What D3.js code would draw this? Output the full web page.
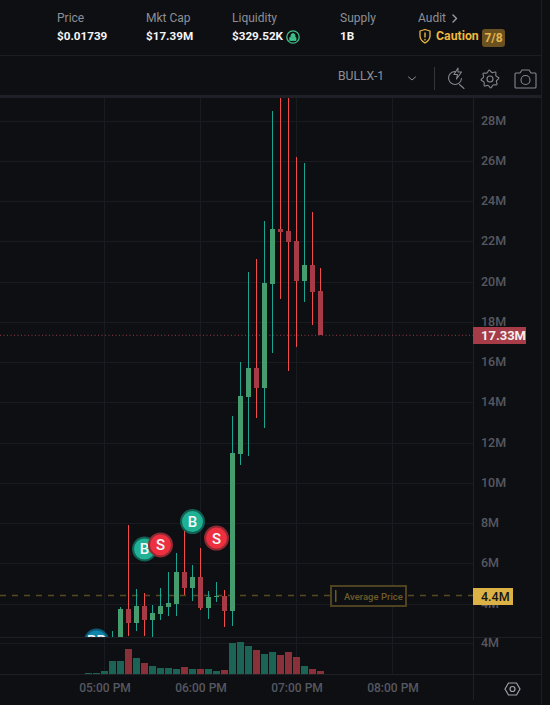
<!DOCTYPE html>
<html><head><meta charset="utf-8">
<style>html,body{margin:0;padding:0;background:#0e0f12;overflow:hidden}svg{display:block;font-family:Roboto,"Liberation Sans",sans-serif}</style>
<script src="https://cdn.jsdelivr.net/npm/d3@7"></script></head><body><div id="c"></div>
<script>
const times=["16:50","16:55","17:00","17:05","17:10","17:15","17:20","17:25","17:30","17:35","17:40","17:45","17:50","17:55","18:00","18:05","18:10","18:15","18:20","18:25","18:30","18:35","18:40","18:45","18:50","18:55","19:00","19:05","19:10","19:15"];
const opens =[1.0,1.2,1.5,2.0,2.3,3.71,3.01,3.86,3.16,3.46,3.81,3.96,5.55,4.75,5.30,3.76,4.30,4.35,3.61,11.43,14.24,15.68,14.69,19.85,22.59,22.49,21.99,20.0,20.80,19.51];
const highs =[1.1,1.3,1.8,2.62,3.81,7.88,4.70,4.50,3.91,4.75,5.55,6.49,7.63,5.89,6.74,4.60,5.05,4.65,13.30,15.98,20.45,21.09,22.98,28.45,31,31,26.16,25.86,23.43,20.65];
const lows  =[0.9,1.0,1.4,1.9,2.0,2.37,2.62,2.37,2.32,3.16,3.36,3.36,4.40,4.11,3.66,3.21,4.06,2.81,2.86,10.86,11.31,13.20,12.70,16.43,19.11,15.53,16.72,18.96,17.82,17.33];
const closes=[1.2,1.5,2.0,2.3,3.71,3.01,3.86,3.16,3.51,3.86,4.01,5.55,4.75,5.30,3.76,4.30,4.35,3.61,11.46,14.29,15.68,14.69,19.90,22.59,22.44,21.94,20.0,20.80,19.46,17.33];
const volumes=[0.13,0.13,0.39,1.68,1.68,3.2,2.07,1.42,1.03,0.77,0.77,0.65,0.9,0.65,0.65,0.65,0.39,0.52,4.0,4.13,3.61,3.1,2.58,2.84,2.45,2.84,2.19,1.03,0.65,0.39];
const markers=[["BB","16:55",2.12],["B","17:25",6.69],["S","17:35",6.89],["B","17:55",8.05],["S","18:10",7.23]];
const priceTicks=[28,26,24,22,20,18,16,14,12,10,8,6,4];
const volumeTicks=[4];
const timeTicks=["17:00","18:00","19:00","20:00"];
const headerLabels=["Price","Mkt Cap","Liquidity","Supply","Audit"];
const headerValues=["$0.01739","$17.39M","$329.52K","1B"];
const lastPrice=17.33, avgPrice=4.4;

const W=550,H=705,axisX=473,paneBottom=637,volBottom=674;
const T=s=>{const[a,b]=s.split(":");return new Date(2024,0,1,+a,+b)};
const x=d3.scaleTime().domain([T("17:00"),T("20:00")]).range([104.5,392.5]);
const y=d3.scaleLinear().domain([28,4]).range([120,603.12]);
const yv=d3.scaleLinear().domain([0,4]).range([674,643]);
const gy=v=>Math.round(y(v)+0.5)+0.5;
const GRID="#1a1b20",LINE="#1f2026",LBL="#565861";
const svg=d3.select("#c").append("svg").attr("width",W).attr("height",H);
svg.append("rect").attr("width",W).attr("height",H).attr("fill","#0e0f12");
const defs=svg.append("defs");
defs.append("clipPath").attr("id","pane").append("rect").attr("x",0).attr("y",98).attr("width",axisX).attr("height",paneBottom-98);

// frame
svg.append("rect").attr("x",0).attr("y",95).attr("width",541).attr("height",3).attr("fill","#1e1f27");
const hl=(yy,x1,x2,c)=>svg.append("line").attr("x1",x1).attr("x2",x2).attr("y1",yy).attr("y2",yy).attr("stroke",c).attr("shape-rendering","crispEdges");
const vl=(xx,y1,y2,c)=>svg.append("line").attr("x1",xx).attr("x2",xx).attr("y1",y1).attr("y2",y2).attr("stroke",c).attr("shape-rendering","crispEdges");
hl(55.5,0,541,"#1c1d22");
vl(541.5,0,705,"#1c1d22");

// grid
svg.append("g").selectAll("line").data(priceTicks).join("line")
 .attr("x1",0).attr("x2",axisX).attr("y1",gy).attr("y2",gy).attr("stroke",GRID).attr("shape-rendering","crispEdges");
svg.append("g").selectAll("line").data(timeTicks).join("line")
 .attr("x1",d=>x(T(d))).attr("x2",d=>x(T(d))).attr("y1",98).attr("y2",volBottom).attr("stroke",GRID).attr("shape-rendering","crispEdges");
hl(643.5,0,axisX,GRID);
hl(637.5,0,541,LINE);
hl(674.5,0,541,LINE);
vl(473.5,98,700,LINE);

// volume
const idx=d3.range(times.length);
svg.append("g").selectAll("rect").data(idx).join("rect")
 .attr("x",i=>x(T(times[i]))-3.5).attr("width",7)
 .attr("y",i=>Math.round(yv(volumes[i]))).attr("height",i=>volBottom-Math.round(yv(volumes[i])))
 .attr("fill",i=>closes[i]>=opens[i]?"#1a6355":"#8a3039");

// avg price line
const gp=svg.append("g");
gp.append("line").attr("x1",0).attr("x2",axisX).attr("y1",y(avgPrice)+.5).attr("y2",y(avgPrice)+.5).attr("stroke","#57491f").attr("stroke-width",1.5).attr("stroke-dasharray","6,6");
// last price
gp.append("line").attr("x1",0).attr("x2",axisX).attr("y1",y(lastPrice)+.5).attr("y2",y(lastPrice)+.5).attr("stroke","#8f3d48").attr("stroke-dasharray","1,2.5");

// candles
const cg=svg.append("g").attr("clip-path","url(#pane)");
const up=i=>closes[i]>=opens[i];
cg.selectAll("rect.w").data(idx).join("rect").attr("class","w")
 .attr("x",i=>x(T(times[i]))-.5).attr("width",1)
 .attr("y",i=>Math.round(y(highs[i]))).attr("height",i=>Math.round(y(lows[i]))-Math.round(y(highs[i])))
 .attr("fill",i=>up(i)?"#1ba392":"#f34a4a");
cg.selectAll("rect.b").data(idx).join("rect").attr("class","b")
 .attr("x",i=>x(T(times[i]))-2.5).attr("width",5)
 .attr("y",i=>Math.round(y(Math.max(opens[i],closes[i]))))
 .attr("height",i=>Math.max(1,Math.round(y(Math.min(opens[i],closes[i])))-Math.round(y(Math.max(opens[i],closes[i])))))
 .attr("fill",i=>up(i)?"#459c6e":"#a63b47");

// markers
const mk=cg.selectAll("g.m").data(markers).join("g").attr("class","m").attr("transform",d=>`translate(${x(T(d[1]))},${y(d[2])})`);
const mFill={B:"#20b093",S:"#ee2f40",BB:"#0f84ad"},mRing={B:"#125f54",S:"#8f2a33",BB:"#0b5a78"};
mk.append("circle").attr("r",11.5).attr("fill",d=>mFill[d[0]]).attr("stroke",d=>mRing[d[0]]).attr("stroke-width",2);
mk.append("text").attr("text-anchor","middle").attr("dy",5.5).attr("font-size",15).attr("font-weight",500).attr("fill","#f4fbfa").text(d=>d[0]);

// axes
const ax=svg.append("g").attr("transform",`translate(481,0)`).call(d3.axisRight(y).tickValues(priceTicks).tickFormat(d=>d+"M").tickSize(0).tickPadding(0));
ax.select(".domain").remove();
ax.selectAll("text").attr("fill",LBL).attr("font-size",12.5).attr("font-family","Roboto").attr("font-weight",500);
const av=svg.append("g").attr("transform",`translate(481,-1)`).call(d3.axisRight(yv).tickValues(volumeTicks).tickFormat(d=>d+"M").tickSize(0).tickPadding(0));
av.select(".domain").remove();
av.selectAll("text").attr("fill",LBL).attr("font-size",12.5).attr("font-family","Roboto").attr("font-weight",500);
const at=svg.append("g").attr("transform",`translate(0,683)`).call(d3.axisBottom(x).tickValues(timeTicks.map(T)).tickFormat(d3.timeFormat("%I:%M %p")).tickSize(0).tickPadding(0));
at.select(".domain").remove();
at.selectAll("text").attr("fill",LBL).attr("font-size",12).attr("font-family","Roboto").attr("font-weight",500);

// price tags
svg.append("rect").attr("x",473).attr("y",327).attr("width",53).attr("height",17).attr("fill","#a53c48");
svg.append("text").attr("x",481).attr("y",340).attr("font-size",13).attr("font-weight",700).attr("fill","#f4eeee").text(lastPrice+"M");
svg.append("rect").attr("x",473).attr("y",588).attr("width",40).attr("height",17).attr("fill","#dcb246");
svg.append("text").attr("x",481).attr("y",601).attr("font-size",12.5).attr("font-weight",500).attr("fill","#17171a").text(avgPrice+"M");
svg.append("rect").attr("x",331).attr("y",586).attr("width",75).attr("height",20).attr("fill","#0e0f12").attr("stroke","#4e4220").attr("stroke-width",2);
svg.append("rect").attr("x",335).attr("y",590).attr("width",1.5).attr("height",12).attr("fill","#6a5a28");
svg.append("text").attr("x",344).attr("y",599.5).attr("font-size",9.5).attr("font-weight",500).attr("fill","#6d5c2a").text("Average Price");

// header
const hx=[57,146,232,340,418];
svg.append("g").selectAll("text").data(headerLabels).join("text").attr("x",(d,i)=>hx[i]).attr("y",22).attr("font-size",12).attr("fill","#8c8f98").text(d=>d);
svg.append("g").selectAll("text").data(headerValues).join("text").attr("x",(d,i)=>hx[i]).attr("y",40).attr("font-size",11.7).attr("font-weight",700).attr("fill","#f5f5f7").text(d=>d);
const ic=svg.append("g").attr("fill","none").attr("stroke-linecap","round").attr("stroke-linejoin","round");
ic.append("path").attr("d","M453 15l3.500 3.500l-3.500 3.500").attr("stroke","#9a9da5").attr("stroke-width",1.4);
// lock
ic.append("circle").attr("cx",293).attr("cy",37).attr("r",6.2).attr("stroke","#3fc08a").attr("stroke-width",1.3);
ic.append("path").attr("d","M290 37.500h6v3h-6zM291 37v-1.500a2 2 0 0 1 4 0v1.500").attr("fill","#3fc08a").attr("stroke","#3fc08a").attr("stroke-width",.8);
// shield
ic.append("path").attr("d","M420 31l5-1.500l5 1.500v5c0 3.500-2.500 5.500-5 7c-2.500-1.500-5-3.500-5-7z").attr("stroke","#e9b543").attr("stroke-width",1.3);
ic.append("path").attr("d","M425 33v4M425 39.500v.4").attr("stroke","#e9b543").attr("stroke-width",1.4);
svg.append("text").attr("x",436).attr("y",40).attr("font-size",12.3).attr("font-weight",700).attr("fill","#f0b73e").text("Caution");
svg.append("rect").attr("x",482).attr("y",29).attr("width",23).attr("height",18).attr("rx",3).attr("fill","#6b5120");
svg.append("text").attr("x",493.500).attr("y",42).attr("text-anchor","middle").attr("font-size",12).attr("font-weight",700).attr("fill","#e5b54c").text("7/8");

// toolbar
svg.append("text").attr("x",338).attr("y",80).attr("font-size",12.2).attr("fill","#8c8f98").text("BULLX-1");
ic.append("path").attr("d","M408.500 77l3.500 3l3.500-3").attr("stroke","#8c8f98").attr("stroke-width",1);
vl(434.5,67,90,"#34353b");
ic.append("path").attr("d","M455 71.500a6.500 6.500 0 1 0 6.500 7M459.500 84.500l4.500 4M458 68l-4 6.500h3.500l-1 4.500l5-7h-3.500z").attr("stroke","#85878f").attr("stroke-width",1.1);
const gearPts=d3.range(16).map(i=>{const a=i/16*2*Math.PI-Math.PI/16*0.5,r=i%2?6.7:9;return [490+r*Math.cos(a),79+r*Math.sin(a)]});
ic.append("path").attr("d",d3.line().curve(d3.curveCatmullRomClosed)(gearPts)).attr("stroke","#85878f").attr("stroke-width",1.1);
ic.append("circle").attr("cx",490).attr("cy",79).attr("r",3).attr("stroke","#85878f").attr("stroke-width",1.1);
ic.append("path").attr("d","M516 73h4l2-3h7l2 3h4a1 1 0 0 1 1 1v13a1 1 0 0 1-1 1h-19a1 1 0 0 1-1-1v-13a1 1 0 0 1 1-1z").attr("stroke","#85878f").attr("stroke-width",1.1);
ic.append("circle").attr("cx",525.500).attr("cy",80).attr("r",4.500).attr("stroke","#85878f").attr("stroke-width",1.1);
// bottom settings
ic.append("path").attr("d","M508.500 683h8l3.500 6l-3.500 6h-8l-3.500-6z").attr("stroke","#a0a2a9").attr("stroke-width",1.2);
ic.append("circle").attr("cx",512.500).attr("cy",689).attr("r",2.500).attr("stroke","#a0a2a9").attr("stroke-width",1.2);
</script></body></html>
